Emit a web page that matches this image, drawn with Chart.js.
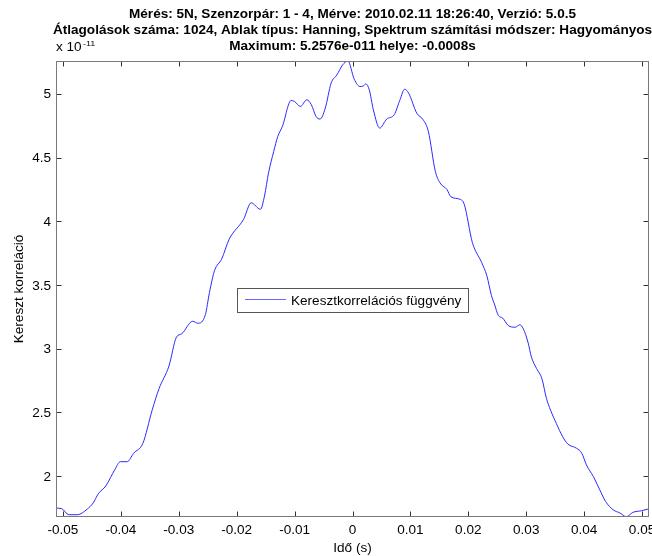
<!DOCTYPE html>
<html>
<head>
<meta charset="utf-8">
<script src="https://cdn.jsdelivr.net/npm/chart.js@4.4.1/dist/chart.umd.min.js"></script>
<style>
  body { margin: 0; background: #fff; }
  canvas { display: block; }
</style>
</head>
<body>
<canvas id="chart" width="652" height="556"></canvas>
<script>
// lag in seconds, correlation in units of 1e-11
const lagSeconds = [
  -0.0512, -0.0502, -0.0490, -0.0475, -0.0458, -0.0448, -0.0439, -0.0426, -0.0410, -0.0401,
  -0.0389, -0.0378, -0.0362, -0.0346, -0.0334, -0.0317, -0.0304, -0.0295, -0.0276, -0.0267,
  -0.0254, -0.0247, -0.0238, -0.0226, -0.0213, -0.0188, -0.0175, -0.0159, -0.0152, -0.0145,
  -0.0136, -0.0129, -0.0121, -0.0106, -0.0100, -0.0090, -0.0079, -0.0071, -0.0063, -0.0056,
  -0.0047, -0.0037, -0.0027, -0.0017, -0.0008, 0.0003, 0.0013, 0.0019, 0.0023, 0.0029,
  0.0036, 0.0047, 0.0059, 0.0072, 0.0082, 0.0090, 0.0097, 0.0111, 0.0122, 0.0131,
  0.0143, 0.0151, 0.0163, 0.0170, 0.0186, 0.0193, 0.0207, 0.0223, 0.0232, 0.0240,
  0.0245, 0.0252, 0.0259, 0.0269, 0.0281, 0.0289, 0.0295, 0.0303, 0.0309, 0.0318,
  0.0327, 0.0335, 0.0342, 0.0352, 0.0363, 0.0372, 0.0387, 0.0396, 0.0404, 0.0416,
  0.0427, 0.0437, 0.0450, 0.0462, 0.0473, 0.0484, 0.0499, 0.0510, 0.0512
];
const crossCorr = [
  1.750, 1.745, 1.698, 1.698, 1.742, 1.789, 1.862, 1.924, 2.055, 2.114,
  2.114, 2.180, 2.258, 2.518, 2.688, 2.864, 3.091, 3.117, 3.216, 3.200,
  3.268, 3.442, 3.616, 3.703, 3.859, 4.016, 4.145, 4.094, 4.198, 4.380,
  4.549, 4.666, 4.745, 4.948, 4.940, 4.901, 4.953, 4.914, 4.823, 4.802,
  4.888, 5.083, 5.148, 5.227, 5.2576, 5.115, 5.057, 5.063, 5.078, 5.031,
  4.875, 4.731, 4.802, 4.836, 4.953, 5.036, 5.005, 4.848, 4.797, 4.705,
  4.393, 4.302, 4.250, 4.192, 4.172, 4.133, 3.833, 3.677, 3.573, 3.416,
  3.352, 3.260, 3.242, 3.182, 3.169, 3.188, 3.156, 3.052, 2.934, 2.844,
  2.766, 2.609, 2.518, 2.414, 2.309, 2.252, 2.219, 2.180, 2.088, 1.997,
  1.893, 1.802, 1.737, 1.711, 1.682, 1.716, 1.729, 1.742, 1.745
];
const xTickValues = [-0.05, -0.04, -0.03, -0.02, -0.01, 0, 0.01, 0.02, 0.03, 0.04, 0.05];
const yTickValues = [2, 2.5, 3, 3.5, 4, 4.5, 5];

const titleLines = [
  "Mérés: 5N, Szenzorpár: 1 - 4, Mérve: 2010.02.11 18:26:40, Verzió: 5.0.5",
  "Átlagolások száma: 1024, Ablak típus: Hanning, Spektrum számítási módszer: Hagyományos",
  "Maximum: 5.2576e-011 helye: -0.0008s"
];
const xLabel = "Idő (s)";
const yLabel = "Kereszt korreláció";
const seriesName = "Keresztkorrelációs függvény";

const FONT = '"Liberation Sans", Arial, sans-serif';
const LINE_COLOR = "#2a2aff";
const STRETCH = 1.13; // matlab's helvetica renders wider than arial

function fmt(v) {
  return String(+v.toFixed(4));
}

// draws text a bit wider, like the original export
function wideText(ctx, text, x, y, font, align) {
  ctx.save();
  ctx.font = font;
  ctx.textAlign = align;
  ctx.textBaseline = "alphabetic";
  ctx.translate(x, y);
  ctx.scale(STRETCH, 1);
  ctx.fillText(text, 0, 0);
  ctx.restore();
}

const matlabLook = {
  id: "matlabLook",
  afterDraw(chart) {
    const { ctx, chartArea: a, scales } = chart;
    const L = Math.round(a.left) + 0.5, R = Math.round(a.right) - 0.5;
    const T = Math.round(a.top) + 0.5, B = Math.round(a.bottom) - 0.5;
    const cx = (a.left + a.right) / 2;
    ctx.save();

    // inward ticks on all sides
    ctx.strokeStyle = "#333";
    ctx.lineWidth = 1;
    ctx.beginPath();
    xTickValues.forEach(v => {
      const px = Math.round(scales.x.getPixelForValue(v)) + 0.5;
      ctx.moveTo(px, B); ctx.lineTo(px, B - 5);
      ctx.moveTo(px, T); ctx.lineTo(px, T + 5);
    });
    yTickValues.forEach(v => {
      const py = Math.round(scales.y.getPixelForValue(v)) + 0.5;
      ctx.moveTo(L, py); ctx.lineTo(L + 5, py);
      ctx.moveTo(R, py); ctx.lineTo(R - 5, py);
    });
    ctx.stroke();

    ctx.strokeStyle = "#7a7a7a";
    ctx.strokeRect(L, T, R - L, B - T);

    ctx.fillStyle = "#000";
    const tickFont = "12px " + FONT;
    xTickValues.forEach(v => {
      wideText(ctx, fmt(v), scales.x.getPixelForValue(v), 534, tickFont, "center");
    });
    yTickValues.forEach(v => {
      wideText(ctx, fmt(v), 51, scales.y.getPixelForValue(v) + 4.5, tickFont, "right");
    });

    // titles
    titleLines.forEach((line, i) => {
      wideText(ctx, line, cx, 18 + i * 16, "bold 12px " + FONT, "center");
    });

    // axis labels
    wideText(ctx, xLabel, cx, 552, "12px " + FONT, "center");
    ctx.save();
    ctx.translate(23, (a.top + a.bottom) / 2);
    ctx.rotate(-Math.PI / 2);
    ctx.font = "12px " + FONT;
    ctx.textAlign = "center";
    ctx.textBaseline = "alphabetic";
    ctx.scale(STRETCH, 1);
    ctx.fillText(yLabel, 0, 0);
    ctx.restore();

    // exponent
    wideText(ctx, "x 10", 56, 51, "12px " + FONT, "left");
    wideText(ctx, "-11", 83, 46, "8px " + FONT, "left");

    // legend
    const lx = 237.5, ly = 288.5, lw = 231, lh = 24;
    ctx.fillStyle = "#fff";
    ctx.fillRect(lx, ly, lw, lh);
    ctx.strokeStyle = "#555";
    ctx.strokeRect(lx, ly, lw, lh);
    ctx.strokeStyle = "#6a6aff";
    ctx.beginPath();
    ctx.moveTo(245, 299.5); ctx.lineTo(286, 299.5);
    ctx.stroke();
    ctx.fillStyle = "#000";
    wideText(ctx, seriesName, 291, 304.5, "12px " + FONT, "left");

    ctx.restore();
  }
};

new Chart(document.getElementById("chart"), {
  type: "scatter",
  data: {
    datasets: [{
      label: seriesName,
      data: lagSeconds.map((x, i) => ({ x, y: crossCorr[i] })),
      showLine: true,
      borderColor: LINE_COLOR,
      borderWidth: 1,
      pointRadius: 0,
      cubicInterpolationMode: "monotone"
    }]
  },
  options: {
    responsive: false,
    animation: false,
    layout: { padding: { top: 61, left: 0, right: 3, bottom: 0 } },
    plugins: { legend: { display: false }, tooltip: { enabled: false } },
    scales: {
      x: {
        type: "linear",
        min: -0.0512,
        max: 0.0512,
        afterBuildTicks: s => { s.ticks = xTickValues.map(value => ({ value })); },
        afterFit: s => { s.height = 39; },
        grid: { display: false, drawTicks: false },
        border: { display: false },
        ticks: { display: false }
      },
      y: {
        min: 1.68,
        max: 5.2576,
        afterBuildTicks: s => { s.ticks = yTickValues.map(value => ({ value })); },
        afterFit: s => { s.width = 56; },
        grid: { display: false, drawTicks: false },
        border: { display: false },
        ticks: { display: false }
      }
    }
  },
  plugins: [matlabLook]
});
</script>
</body>
</html>
